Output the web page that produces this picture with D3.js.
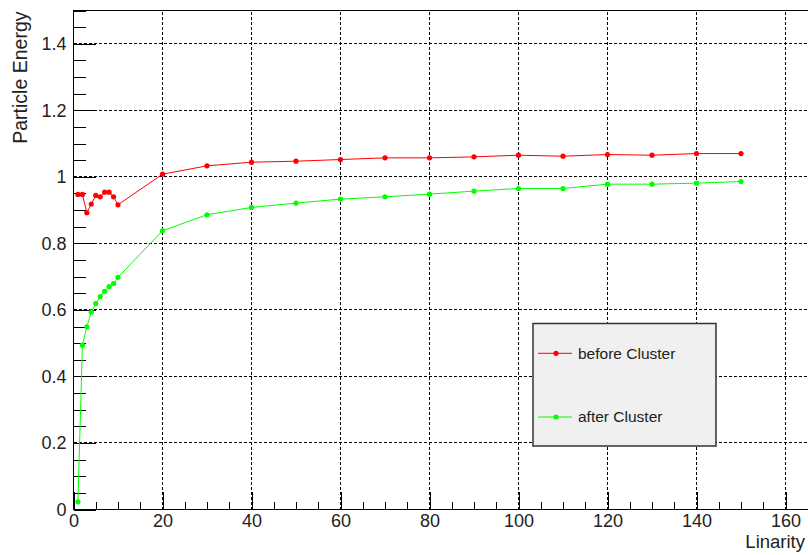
<!DOCTYPE html>
<html>
<head>
<meta charset="utf-8">
<script src="https://cdn.jsdelivr.net/npm/d3@7"></script>
<style>
  html, body { margin: 0; padding: 0; background: #ffffff; }
  svg { display: block; font-family: "Liberation Sans", Arial, sans-serif; }
</style>
</head>
<body>
<svg id="chart" width="808" height="555"></svg>
<script>
// ---- data ----
const linarity = [1, 2, 3, 4, 5, 6, 7, 8, 9, 10, 20, 30, 40, 50, 60, 70, 80, 90, 100, 110, 120, 130, 140, 150];
const beforeCluster = [0.947, 0.947, 0.892, 0.918, 0.944, 0.940, 0.954, 0.954, 0.940, 0.916,
                       1.008, 1.033, 1.044, 1.047, 1.052, 1.057, 1.057, 1.060, 1.065, 1.062, 1.067, 1.065, 1.070, 1.070];
const afterCluster = [0.023, 0.494, 0.549, 0.594, 0.619, 0.640, 0.656, 0.670, 0.679, 0.698,
                      0.838, 0.886, 0.908, 0.921, 0.933, 0.940, 0.948, 0.957, 0.965, 0.965, 0.978, 0.978, 0.981, 0.986];
const seriesNames = ["before Cluster", "after Cluster"];
const seriesColors = ["#ff0000", "#00ff00"];
const xMajorTicks = [0, 20, 40, 60, 80, 100, 120, 140, 160];
const yMajorTicks = [0, 0.2, 0.4, 0.6, 0.8, 1.0, 1.2, 1.4];
const xTitle = "Linarity";
const yTitle = "Particle Energy";

// ---- layout ----
const svg = d3.select("#chart");
const plotLeft = 73.5, plotBottom = 509.5, plotTop = 10.5;
const x = d3.scaleLinear().domain([0, 165.5]).range([plotLeft, plotLeft + 165.5 * 4.45]);
const y = d3.scaleLinear().domain([0, 1.5]).range([plotBottom, plotTop]);
const plotRight = x(165.5);

const xMinor = d3.range(0, 165.01, 5).filter(v => xMajorTicks.indexOf(v) < 0);
const yMinor = d3.range(0, 1.5001, 0.05).map(v => +v.toFixed(2)).filter(v => !yMajorTicks.some(t => Math.abs(t - v) < 1e-6));

// grid
const grid = svg.append("g");
grid.selectAll("line.gx").data(xMajorTicks.filter(v => v > 0)).enter().append("line")
  .attr("x1", d => x(d)).attr("x2", d => x(d)).attr("y1", plotBottom).attr("y2", plotTop)
  .attr("stroke", "#000").attr("stroke-width", 1).attr("stroke-dasharray", "3,2")
  .attr("shape-rendering", "crispEdges");
grid.selectAll("line.gy").data(yMajorTicks.filter(v => v > 0)).enter().append("line")
  .attr("x1", plotLeft).attr("x2", plotRight).attr("y1", d => y(d)).attr("y2", d => y(d))
  .attr("stroke", "#000").attr("stroke-width", 1).attr("stroke-dasharray", "3,2")
  .attr("shape-rendering", "crispEdges");

const fmt = d => String(+(+d).toFixed(1));

// axes
const xAxis = svg.append("g").attr("transform", `translate(0,${plotBottom})`)
  .call(d3.axisBottom(x).tickValues(xMajorTicks).tickSize(-18).tickPadding(5).tickFormat(fmt));
const xAxisMinor = svg.append("g").attr("transform", `translate(0,${plotBottom})`)
  .call(d3.axisBottom(x).tickValues(xMinor).tickSize(-8).tickFormat(""));
const yAxis = svg.append("g").attr("transform", `translate(${plotLeft},0)`)
  .call(d3.axisLeft(y).tickValues(yMajorTicks).tickSize(-22).tickPadding(7).tickFormat(fmt));
const yAxisMinor = svg.append("g").attr("transform", `translate(${plotLeft},0)`)
  .call(d3.axisLeft(y).tickValues(yMinor).tickSize(-12).tickFormat(""));

[xAxis, xAxisMinor, yAxis, yAxisMinor].forEach(g => {
  g.select(".domain").remove();
  g.selectAll(".tick line").attr("stroke", "#000").attr("shape-rendering", "crispEdges");
  g.selectAll(".tick text").attr("fill", "#222").style("font-size", "18px")
    .style("font-family", '"Liberation Sans", Arial, sans-serif');
});

// frame
svg.append("rect").attr("x", plotLeft).attr("y", plotTop).attr("width", plotRight - plotLeft).attr("height", plotBottom - plotTop)
  .attr("fill", "none").attr("stroke", "#000").attr("stroke-width", 1).attr("shape-rendering", "crispEdges");

// series
const seriesData = [beforeCluster, afterCluster];
const line = d3.line().x((d, i) => x(linarity[i])).y(d => y(d));
seriesData.forEach((vals, s) => {
  svg.append("path").datum(vals).attr("d", line)
    .attr("fill", "none").attr("stroke", seriesColors[s]).attr("stroke-width", 1);
  svg.append("g").selectAll("circle").data(vals).enter().append("circle")
    .attr("cx", (d, i) => x(linarity[i])).attr("cy", d => y(d)).attr("r", 2.6)
    .attr("fill", seriesColors[s]);
});

// titles
svg.append("text").attr("x", 805).attr("y", 548).attr("text-anchor", "end")
  .attr("fill", "#222").style("font-size", "18.5px").text(xTitle);
svg.append("text").attr("transform", "translate(26.5,11.5) rotate(-90)").attr("text-anchor", "end")
  .attr("fill", "#222").style("font-size", "19.5px").text(yTitle);

// legend
const lg = svg.append("g");
lg.append("rect").attr("x", 533).attr("y", 323.5).attr("width", 183).attr("height", 122.5)
  .attr("fill", "#f0f0f0").attr("stroke", "#333").attr("stroke-width", 1.5);
const legendY = [353.3, 417];
seriesNames.forEach((name, s) => {
  lg.append("line").attr("x1", 538).attr("x2", 572).attr("y1", legendY[s]).attr("y2", legendY[s])
    .attr("stroke", seriesColors[s]).attr("stroke-width", 1);
  lg.append("circle").attr("cx", 556).attr("cy", legendY[s]).attr("r", 2.6).attr("fill", seriesColors[s]);
  lg.append("text").attr("x", 578).attr("y", legendY[s]).attr("dy", "0.35em")
    .attr("fill", "#222").style("font-size", "15.5px").text(name);
});
</script>
</body>
</html>
